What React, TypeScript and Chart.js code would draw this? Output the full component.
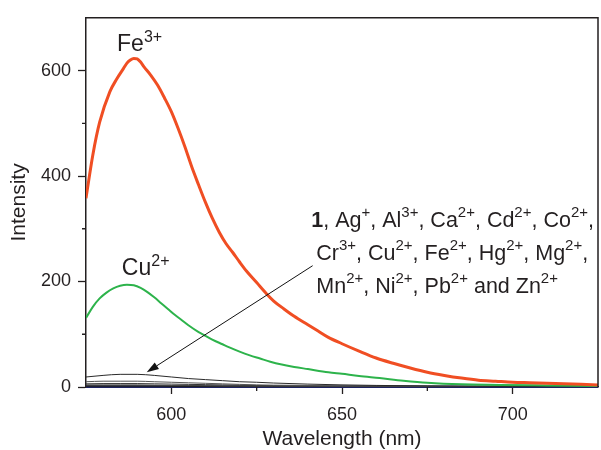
import React, { useEffect, useRef } from "react";
import { Chart, registerables } from "chart.js";

Chart.register(...registerables);

const FONT = '"Liberation Sans", Arial, Helvetica, sans-serif';
const INK = "#231f20";

// Fe3+ emission spectrum
const feWavelength = [
  575, 577, 579, 582, 584, 586, 587, 588, 589, 590, 591, 592, 594, 596, 598, 600,
  602, 604, 606, 608, 610, 612, 614, 616, 618, 620, 622, 625, 628, 630, 633, 636,
  640, 643, 646, 650, 655, 660, 665, 670, 675, 680, 685, 690, 695, 700, 705, 710,
  715, 720, 725,
];
const feIntensity = [
  358, 440, 502, 560, 584, 604, 614, 620, 623, 622, 616, 607, 591, 572, 548, 522,
  490, 455, 417, 383, 350, 320, 294, 272, 255, 237, 220, 198, 176, 163, 148, 134,
  118, 106, 94, 82, 68, 55, 45, 36, 28, 22, 17, 13, 11, 9, 8, 7,
  6, 5, 4,
];

// Cu2+ emission spectrum
const cuWavelength = [
  575, 577, 579, 581, 583, 585, 587, 589, 591, 593, 595, 597, 599, 601, 603, 605,
  608, 610, 612, 615, 617, 620, 623, 626, 629, 632, 636, 640, 646, 650, 655, 661,
  668, 675, 685, 696, 710, 725,
];
const cuIntensity = [
  131, 152, 168, 179, 187, 192, 194, 193, 188, 180, 170, 159, 148, 137, 127, 117,
  104, 97, 90, 81, 75, 67, 60, 54, 48, 43, 38, 34, 28, 25, 21, 17,
  12, 8, 5, 4, 3, 2,
];

// Weak responses (ligand 1 alone and the other metal ions)
const weakWavelength = [
  575, 580, 585, 590, 595, 600, 605, 610, 615, 620, 625, 630, 640, 650, 660, 675, 700, 725,
];
const weakA = [19, 22, 24, 24, 22, 19, 16, 14, 12, 10, 9, 7.5, 5.5, 4, 3, 2, 1, 1];
const weakB = [10, 11, 11, 11, 10, 9, 8, 7, 6, 5, 4, 3.5, 3, 2, 2, 1.5, 1, 1];
const weakC = [6, 6.5, 6.5, 6.5, 6, 5.5, 5, 4.5, 4, 3.5, 3, 2.5, 2, 1.5, 1, 1, 0.5, 0.5];
const weakD = [4, 4, 4, 4, 3.5, 3, 3, 2.5, 2, 2, 1.5, 1.5, 1, 1, 0.5, 0.5, 0, 0];
const weakE = [2, 2, 2, 2, 2, 1.5, 1.5, 1, 1, 1, 1, 0.5, 0.5, 0.5, 0, 0, 0, 0];
const weakF = [0.5, 0.5, 0.5, 0.5, 0.5, 0.5, 0.5, 0.5, 0.5, 0.5, 0.5, 0.5, 0.5, 0.5, 0.5, 0.5, 0.5, 0.5];

const xMajorTicks = [600, 650, 700];
const xMinorTicks = [625, 675];
const yMajorTicks = [0, 200, 400, 600];
const yMinorTicks = [100, 300, 500];

type Run = { t: string; sup?: boolean; bold?: boolean };

const feLabel: Run[] = [{ t: "Fe" }, { t: "3+", sup: true }];
const cuLabel: Run[] = [{ t: "Cu" }, { t: "2+", sup: true }];
const ionLines: Run[][] = [
  [
    { t: "1", bold: true }, { t: ", Ag" }, { t: "+", sup: true }, { t: ", Al" }, { t: "3+", sup: true },
    { t: ", Ca" }, { t: "2+", sup: true }, { t: ", Cd" }, { t: "2+", sup: true }, { t: ", Co" },
    { t: "2+", sup: true }, { t: "," },
  ],
  [
    { t: "Cr" }, { t: "3+", sup: true }, { t: ", Cu" }, { t: "2+", sup: true }, { t: ", Fe" },
    { t: "2+", sup: true }, { t: ", Hg" }, { t: "2+", sup: true }, { t: ", Mg" }, { t: "2+", sup: true },
    { t: "," },
  ],
  [
    { t: "Mn" }, { t: "2+", sup: true }, { t: ", Ni" }, { t: "2+", sup: true }, { t: ", Pb" },
    { t: "2+", sup: true }, { t: " and Zn" }, { t: "2+", sup: true },
  ],
];

// label anchors in data units (wavelength, intensity)
const feLabelAt = [584.1, 637];
const cuLabelAt = [585.5, 213];
const ionLabelAt = [641.0, 304];
const arrowFrom = [641.4, 230];
const arrowTo = [592.8, 28];

function pairs(xs: number[], ys: number[]) {
  return xs.map((x, i) => ({ x, y: ys[i] }));
}

function drawRuns(
  ctx: CanvasRenderingContext2D,
  x: number,
  y: number,
  runs: Run[],
  size: number,
  supSize: number,
  supRise: number
) {
  let cx = x;
  for (const r of runs) {
    const fs = r.sup ? supSize : size;
    ctx.font = `${r.bold ? "bold " : ""}${fs}px ${FONT}`;
    ctx.fillText(r.t, cx, r.sup ? y - supRise : y);
    cx += ctx.measureText(r.t).width;
  }
}

const decorations = {
  id: "decorations",
  afterDraw(chart: any) {
    const { ctx, chartArea, scales } = chart;
    const xs = scales.x;
    const ys = scales.y;
    ctx.save();

    // frame: top and right edges
    ctx.strokeStyle = INK;
    ctx.lineWidth = 1.5;
    ctx.beginPath();
    ctx.moveTo(chartArea.left, chartArea.top);
    ctx.lineTo(chartArea.right, chartArea.top);
    ctx.lineTo(chartArea.right, chartArea.bottom);
    ctx.stroke();

    // minor ticks
    ctx.lineWidth = 1.3;
    ctx.beginPath();
    for (const v of xMinorTicks) {
      const px = xs.getPixelForValue(v);
      ctx.moveTo(px, chartArea.bottom);
      ctx.lineTo(px, chartArea.bottom + 4);
    }
    for (const v of yMinorTicks) {
      const py = ys.getPixelForValue(v);
      ctx.moveTo(chartArea.left, py);
      ctx.lineTo(chartArea.left - 4, py);
    }
    ctx.stroke();

    // labels
    ctx.fillStyle = INK;
    ctx.textBaseline = "alphabetic";
    ctx.textAlign = "left";
    drawRuns(ctx, xs.getPixelForValue(feLabelAt[0]), ys.getPixelForValue(feLabelAt[1]), feLabel, 23, 16, 9);
    drawRuns(ctx, xs.getPixelForValue(cuLabelAt[0]), ys.getPixelForValue(cuLabelAt[1]), cuLabel, 23, 16, 9);
    const ix = xs.getPixelForValue(ionLabelAt[0]);
    const iy = ys.getPixelForValue(ionLabelAt[1]);
    const lineOffsets = [0, 33, 66];
    const lineIndent = [0, 5, 5];
    ionLines.forEach((runs, i) => {
      drawRuns(ctx, ix + lineIndent[i], iy + lineOffsets[i], runs, 21.5, 15, 10);
    });

    // arrow
    const x1 = xs.getPixelForValue(arrowFrom[0]);
    const y1 = ys.getPixelForValue(arrowFrom[1]);
    const x2 = xs.getPixelForValue(arrowTo[0]);
    const y2 = ys.getPixelForValue(arrowTo[1]);
    const ang = Math.atan2(y2 - y1, x2 - x1);
    const headLen = 12;
    const headHalf = 4;
    const bx = x2 - headLen * Math.cos(ang);
    const by = y2 - headLen * Math.sin(ang);
    ctx.strokeStyle = "#111";
    ctx.lineWidth = 1;
    ctx.beginPath();
    ctx.moveTo(x1, y1);
    ctx.lineTo(bx, by);
    ctx.stroke();
    ctx.fillStyle = "#111";
    ctx.beginPath();
    ctx.moveTo(x2, y2);
    ctx.lineTo(bx + headHalf * Math.sin(ang), by - headHalf * Math.cos(ang));
    ctx.lineTo(bx - headHalf * Math.sin(ang), by + headHalf * Math.cos(ang));
    ctx.closePath();
    ctx.fill();

    ctx.restore();
  },
};

export default function App() {
  const canvasRef = useRef<HTMLCanvasElement | null>(null);

  useEffect(() => {
    const canvas = canvasRef.current;
    if (!canvas) return;
    Chart.defaults.font.family = FONT;

    const weak = (ys: number[], color: string, width = 1) => ({
      data: pairs(weakWavelength, ys),
      borderColor: color,
      borderWidth: width,
      pointRadius: 0,
      cubicInterpolationMode: "monotone" as const,
    });

    const chart = new Chart(canvas, {
      type: "line",
      data: {
        datasets: [
          {
            data: pairs(feWavelength, feIntensity),
            borderColor: "#f04e23",
            borderWidth: 3,
            pointRadius: 0,
            cubicInterpolationMode: "monotone",
          },
          {
            data: pairs(cuWavelength, cuIntensity),
            borderColor: "#2db34b",
            borderWidth: 2,
            pointRadius: 0,
            cubicInterpolationMode: "monotone",
          },
          weak(weakA, "#2a2a2a"),
          weak(weakB, "#555555"),
          weak(weakC, "#333333"),
          weak(weakD, "#444444"),
          weak(weakE, "#222222", 1.5),
          { ...weak(weakF, "#1c2260", 2.5), clip: false },
        ] as any,
      },
      options: {
        responsive: false,
        animation: false,
        events: [],
        layout: { padding: { top: 13, right: 3, left: 0, bottom: 0 } },
        plugins: { legend: { display: false }, tooltip: { enabled: false } },
        scales: {
          x: {
            type: "linear",
            min: 575,
            max: 725,
            afterFit: (s: any) => {
              s.height = 63;
            },
            afterBuildTicks: (s: any) => {
              s.ticks = xMajorTicks.map((value) => ({ value }));
            },
            grid: {
              drawOnChartArea: false,
              drawTicks: true,
              tickLength: 7,
              tickColor: INK,
              tickWidth: 1.3,
            },
            border: { display: true, color: INK, width: 1.5 },
            ticks: {
              color: INK,
              font: { size: 18, family: FONT },
              padding: 10,
              maxRotation: 0,
            },
            title: {
              display: true,
              text: "Wavelength (nm)",
              color: INK,
              font: { size: 21, family: FONT },
              padding: { top: 0, bottom: -2 },
            },
          },
          y: {
            type: "linear",
            min: 0,
            max: 700,
            afterFit: (s: any) => {
              s.width = 86;
            },
            afterBuildTicks: (s: any) => {
              s.ticks = yMajorTicks.map((value) => ({ value }));
            },
            grid: {
              drawOnChartArea: false,
              drawTicks: true,
              tickLength: 8,
              tickColor: INK,
              tickWidth: 1.3,
            },
            border: { display: true, color: INK, width: 1.5 },
            ticks: {
              color: INK,
              font: { size: 18, family: FONT },
              padding: 7,
            },
            title: {
              display: true,
              text: "Intensity",
              color: INK,
              font: { size: 21, family: FONT },
              padding: { top: 7, bottom: 0 },
            },
          },
        },
      },
      plugins: [decorations],
    });

    return () => chart.destroy();
  }, []);

  return (
    <div style={{ position: "absolute", left: 0, top: 0, width: 601, height: 450, background: "#fff" }}>
      <canvas ref={canvasRef} width={601} height={450} style={{ display: "block" }} />
    </div>
  );
}
